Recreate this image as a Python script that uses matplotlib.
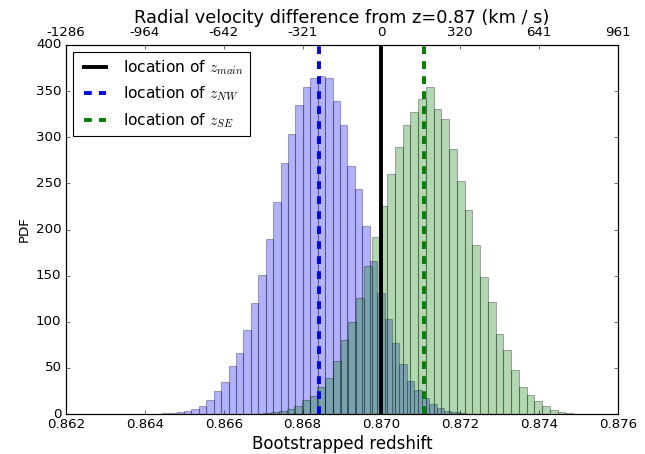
import matplotlib
matplotlib.use("Agg")
import matplotlib.pyplot as plt
import numpy as np

# ---------------- data ----------------
# blue (NW) bootstrap histogram: first bin left edge, bin width, densities
blue_start = 0.864239
blue_width = 0.0001884
blue_heights = [0.3, 0.6, 1.2, 2, 3.6, 5.4, 8.7, 15.5, 25, 35,
                52, 66, 90.6, 120, 151, 190, 230, 272, 304, 335.5,
                354, 364, 366, 364, 339.5, 313, 269, 243.5, 204, 166,
                131, 103, 77, 54, 36, 26, 17, 10.5, 6, 3.5,
                2, 1, 0.5]

# green (SE) bootstrap histogram
green_start = 0.866807
green_width = 0.0001964
green_heights = [0.5, 1, 1.8, 3.3, 5.4, 9, 15.5, 19.5, 29, 39.5,
                 57, 80, 100, 126, 160, 192, 225, 260, 289, 313,
                 327, 341, 355, 331, 320, 287, 253, 221, 183, 148.6,
                 121, 87, 69, 48, 29.5, 20.6, 14.5, 8.7, 4, 1.8,
                 0.7, 0.3, 0.2]

z_main = 0.8700
z_nw = 0.86842
z_se = 0.87109

x_ticks = [0.862, 0.864, 0.866, 0.868, 0.870, 0.872, 0.874, 0.876]
x_tick_labels = ["0.862", "0.864", "0.866", "0.868", "0.870", "0.872", "0.874", "0.876"]
top_tick_labels = ["-1286", "-964", "-642", "-321", "0", "320", "641", "961"]
y_ticks = [0, 50, 100, 150, 200, 250, 300, 350, 400]

# ---------------- style ----------------
plt.style.use("classic")
plt.rcParams["font.family"] = ["DejaVu Sans"]
plt.rcParams["mathtext.fontset"] = "cm"
plt.rcParams["lines.scale_dashes"] = False
plt.rcParams["savefig.facecolor"] = "white"
plt.rcParams["figure.facecolor"] = "white"

DPI = 80
fig = plt.figure(figsize=(645 / DPI, 454 / DPI), dpi=DPI)
ax = fig.add_axes([66 / 645, 1 - 414 / 454, 552 / 645, 369 / 454])

nb = len(blue_heights)
ng = len(green_heights)
blue_left = blue_start + blue_width * np.arange(nb)
green_left = green_start + green_width * np.arange(ng)

ax.bar(blue_left, blue_heights, width=blue_width, align="edge",
       color="b", alpha=0.3, edgecolor="k", linewidth=1.0)
ax.bar(green_left, green_heights, width=green_width, align="edge",
       color="g", alpha=0.3, edgecolor="k", linewidth=1.0)

lw = 3.5
ax.axvline(z_main, color="k", lw=lw, ls="-", label=r"location of $z_{main}$")
ax.axvline(z_nw, color="b", lw=lw, dashes=(7, 6.5), label=r"location of $z_{NW}$")
ax.axvline(z_se, color="g", lw=lw, dashes=(7, 6.5), label=r"location of $z_{SE}$")

ax.set_xlim(0.862, 0.876)
ax.set_ylim(0, 400)
ax.set_xticks(x_ticks)
ax.set_xticklabels(x_tick_labels)
ax.set_yticks(y_ticks)
ax.tick_params(labelsize=12)
ax.set_xlabel("Bootstrapped redshift", fontsize=15, labelpad=3)
ax.set_ylabel("PDF", fontsize=12)

leg = ax.legend(loc="upper left", fontsize=14, handlelength=2.0,
                labelspacing=0.5, borderaxespad=0.45)

ax2 = ax.twiny()
ax2.set_xlim(ax.get_xlim())
ax2.set_xticks(x_ticks)
ax2.set_xticklabels(top_tick_labels)
ax2.tick_params(labelsize=12, pad=5)
ax2.set_xlabel("Radial velocity difference from z=0.87 (km / s)", fontsize=16, labelpad=3)

fig.savefig("out.png", dpi=DPI, facecolor="white")
